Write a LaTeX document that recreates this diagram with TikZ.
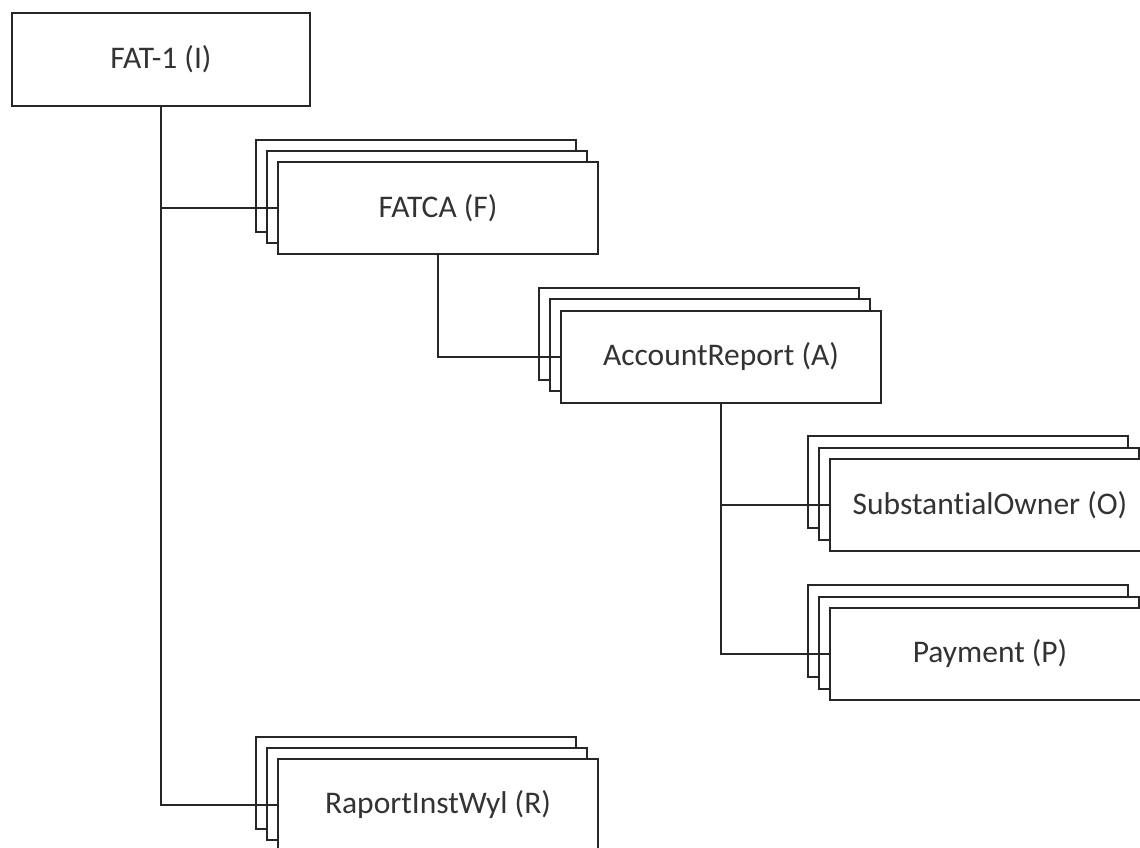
\documentclass[tikz,border=0pt]{standalone}
\usepackage{fontspec}
\setmainfont[Ligatures={NoCommon},RawFeature={-liga;-dlig}]{Carlito}
\begin{document}
\begin{tikzpicture}[x=1pt,y=-1pt,
  box/.style={draw=black!85, line width=1.6pt, fill=white, minimum width=320pt, minimum height=92pt, inner sep=0pt, font=\fontsize{31.5}{36}\selectfont, text=black!80},
  conn/.style={draw=black!85, line width=1.6pt}]
\useasboundingbox (0,0) rectangle (1140,847);
% root
\node[box, minimum width=298pt, minimum height=93pt] (I) at (161,59.5) {FAT-1 (I)};
% FATCA stack
\node[box] (F3) at (416,186) {};
\node[box] (F2) at (427,197) {};
\node[box] (F) at (438,208) {FATCA (F)};
% AccountReport stack
\node[box] (A3) at (699,334) {};
\node[box] (A2) at (710,345) {};
\node[box] (A) at (721,357) {AccountReport (A)};
% SubstantialOwner stack
\node[box] (O3) at (968,482) {};
\node[box] (O2) at (979,494) {};
\node[box] (O) at (990,505) {SubstantialOwner (O)};
% Payment stack
\node[box] (P3) at (968,631) {};
\node[box] (P2) at (979,643) {};
\node[box] (P) at (990,654) {Payment (P)};
% RaportInstWyl stack
\node[box] (R3) at (416,783) {};
\node[box] (R2) at (427,794) {};
\node[box] (R) at (438,805) {RaportInstWyl (R)};
% connectors
\draw[conn] (I.south) -- (I.south |- R.west) -- (R.west);
\draw[conn] (I.south |- F.west) -- (F.west);
\draw[conn] (F.south) -- (F.south |- A.west) -- (A.west);
\draw[conn] (A.south) -- (A.south |- P.west) -- (P.west);
\draw[conn] (A.south |- O.west) -- (O.west);
\end{tikzpicture}
\end{document}
